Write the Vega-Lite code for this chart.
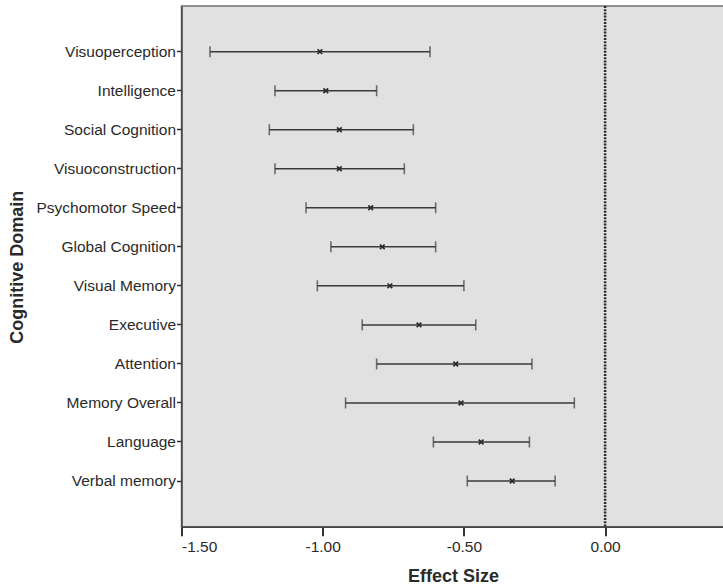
{
  "$schema": "https://vega.github.io/schema/vega-lite/v6.json",
  "width": 543,
  "height": 520.7,
  "autosize": {"type": "none"},
  "padding": {"left": 181.5, "top": 6, "right": 0, "bottom": 60.3},
  "background": "white",
  "config": {
    "view": {"fill": "#e1e1e1", "stroke": "#707070", "strokeWidth": 1.5},
    "font": "Liberation Sans"
  },
  "data": {
    "values": [
      {"domain": "Visuoperception", "mean": -1.01, "lower": -1.399, "upper": -0.62},
      {"domain": "Intelligence", "mean": -0.989, "lower": -1.169, "upper": -0.809},
      {"domain": "Social Cognition", "mean": -0.941, "lower": -1.189, "upper": -0.679},
      {"domain": "Visuoconstruction", "mean": -0.941, "lower": -1.169, "upper": -0.711},
      {"domain": "Psychomotor Speed", "mean": -0.83, "lower": -1.059, "upper": -0.6},
      {"domain": "Global Cognition", "mean": -0.789, "lower": -0.971, "upper": -0.6},
      {"domain": "Visual Memory", "mean": -0.762, "lower": -1.019, "upper": -0.5},
      {"domain": "Executive", "mean": -0.659, "lower": -0.86, "upper": -0.458},
      {"domain": "Attention", "mean": -0.529, "lower": -0.809, "upper": -0.259},
      {"domain": "Memory Overall", "mean": -0.51, "lower": -0.919, "upper": -0.109},
      {"domain": "Language", "mean": -0.439, "lower": -0.608, "upper": -0.268},
      {"domain": "Verbal memory", "mean": -0.329, "lower": -0.488, "upper": -0.177}
    ]
  },
  "encoding": {
    "y": {
      "field": "domain",
      "type": "nominal",
      "sort": ["Visuoperception", "Intelligence", "Social Cognition", "Visuoconstruction", "Psychomotor Speed", "Global Cognition", "Visual Memory", "Executive", "Attention", "Memory Overall", "Language", "Verbal memory"],
      "scale": {"type": "band", "paddingInner": 0, "paddingOuter": 0.67},
      "axis": {
        "title": "Cognitive Domain",
        "titleFont": "Liberation Sans",
        "titleFontSize": 18,
        "titleFontWeight": "bold",
        "titleColor": "#2a2a2a",
        "titleX": -164.5,
        "titleY": 260.7,
        "titleAngle": -90,
        "titleAlign": "center",
        "titleBaseline": "middle",
        "labelFontSize": 15.5,
        "labelColor": "#2a2a2a",
        "labelPadding": 1,
        "tickSize": 5,
        "tickColor": "#333333",
        "tickWidth": 1.5,
        "domainColor": "#444444",
        "domainWidth": 1.5,
        "grid": false
      }
    }
  },
  "layer": [
    {
      "data": {"values": [{"z": 0}]},
      "mark": {"type": "rule", "color": "#2a2a2a", "strokeDash": [2, 1.2], "strokeWidth": 2.5},
      "encoding": {
        "x": {"field": "z", "type": "quantitative"},
        "y": null
      }
    },
    {
      "mark": {"type": "rule", "color": "#3a3a3a", "strokeWidth": 1.5},
      "encoding": {
        "x": {
          "field": "lower",
          "type": "quantitative",
          "scale": {"domain": [-1.5, 0.4228], "nice": false, "zero": false},
          "axis": {
            "title": "Effect Size",
            "titleFont": "Liberation Sans",
            "titleFontSize": 18,
            "titleFontWeight": "bold",
            "titleColor": "#2a2a2a",
            "titleY": 49.5,
            "titleBaseline": "middle",
            "values": [-1.5, -1, -0.5, 0],
            "labelExpr": "(datum.value < 0 ? '-' : '') + format(abs(datum.value), '.2f')",
            "labelFontSize": 15.5,
            "labelColor": "#2a2a2a",
            "labelPadding": 4,
            "tickSize": 9,
            "tickColor": "#333333",
            "tickWidth": 2,
            "domainColor": "#444444",
            "domainWidth": 1.5,
            "grid": false
          }
        },
        "x2": {"field": "upper"}
      }
    },
    {
      "mark": {"type": "tick", "color": "#3a3a3a", "size": 11, "thickness": 1.6, "orient": "vertical"},
      "encoding": {"x": {"field": "lower", "type": "quantitative"}}
    },
    {
      "mark": {"type": "tick", "color": "#3a3a3a", "size": 11, "thickness": 1.6, "orient": "vertical"},
      "encoding": {"x": {"field": "upper", "type": "quantitative"}}
    },
    {
      "mark": {"type": "point", "shape": "M-1,-1L1,1M-1,1L1,-1", "filled": false, "color": "#2a2a2a", "size": 22, "strokeWidth": 1.7, "opacity": 1},
      "encoding": {"x": {"field": "mean", "type": "quantitative"}}
    }
  ]
}
